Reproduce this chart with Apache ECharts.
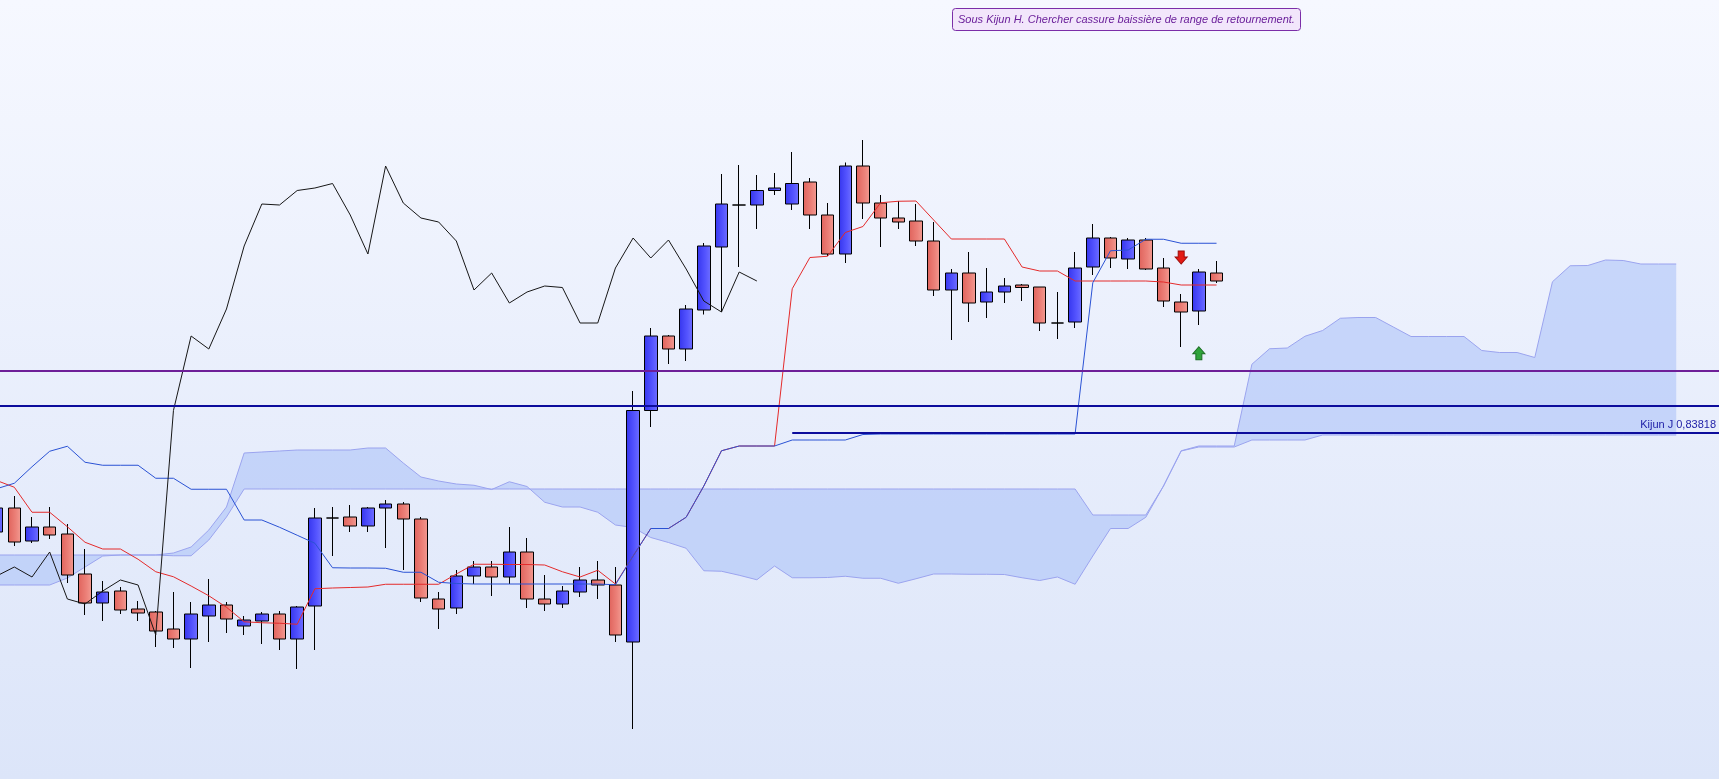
<!DOCTYPE html>
<html>
<head>
<meta charset="utf-8">
<title>Ichimoku</title>
<script src="https://cdn.jsdelivr.net/npm/echarts@6/dist/echarts.min.js"></script>
<style>
html, body { margin: 0; padding: 0; width: 1719px; height: 779px; overflow: hidden; }
#chart { width: 1719px; height: 779px; background: linear-gradient(to bottom, #f6f8ff 0%, #dce5f9 100%); }
</style>
</head>
<body>
<div id="chart"></div>
<script>
// Daily candles: [open, close, low, high], one per period (period 0 is cut by the left edge)
const candles = [
  [0.83422, 0.83518, 0.83410, 0.83530],
  [0.83518, 0.83382, 0.83366, 0.83566],
  [0.83386, 0.83442, 0.83378, 0.83482],
  [0.83442, 0.83410, 0.83394, 0.83522],
  [0.83414, 0.83250, 0.83218, 0.83454],
  [0.83254, 0.83138, 0.83090, 0.83354],
  [0.83138, 0.83182, 0.83066, 0.83226],
  [0.83186, 0.83110, 0.83094, 0.83202],
  [0.83114, 0.83098, 0.83066, 0.83146],
  [0.83102, 0.83026, 0.82962, 0.83106],
  [0.83034, 0.82994, 0.82958, 0.83182],
  [0.82994, 0.83094, 0.82878, 0.83142],
  [0.83086, 0.83130, 0.82982, 0.83234],
  [0.83130, 0.83074, 0.83018, 0.83142],
  [0.83046, 0.83070, 0.83010, 0.83086],
  [0.83066, 0.83094, 0.82974, 0.83102],
  [0.83094, 0.82994, 0.82950, 0.83106],
  [0.82994, 0.83122, 0.82874, 0.83126],
  [0.83126, 0.83478, 0.82950, 0.83518],
  [0.83478, 0.83478, 0.83326, 0.83522],
  [0.83482, 0.83446, 0.83422, 0.83530],
  [0.83446, 0.83518, 0.83422, 0.83522],
  [0.83518, 0.83534, 0.83358, 0.83550],
  [0.83534, 0.83474, 0.83270, 0.83542],
  [0.83474, 0.83158, 0.83142, 0.83482],
  [0.83154, 0.83114, 0.83034, 0.83182],
  [0.83118, 0.83246, 0.83094, 0.83270],
  [0.83246, 0.83282, 0.83214, 0.83306],
  [0.83282, 0.83242, 0.83166, 0.83306],
  [0.83242, 0.83342, 0.83214, 0.83442],
  [0.83342, 0.83154, 0.83118, 0.83398],
  [0.83154, 0.83134, 0.83106, 0.83250],
  [0.83134, 0.83186, 0.83118, 0.83206],
  [0.83182, 0.83230, 0.83162, 0.83282],
  [0.83230, 0.83210, 0.83154, 0.83306],
  [0.83210, 0.83010, 0.82982, 0.83282],
  [0.82982, 0.83908, 0.82634, 0.83986],
  [0.83908, 0.84206, 0.83842, 0.84238],
  [0.84206, 0.84154, 0.84094, 0.84210],
  [0.84154, 0.84314, 0.84106, 0.84330],
  [0.84310, 0.84566, 0.84292, 0.84578],
  [0.84562, 0.84734, 0.84302, 0.84854],
  [0.84730, 0.84730, 0.84482, 0.84890],
  [0.84730, 0.84788, 0.84634, 0.84850],
  [0.84788, 0.84798, 0.84770, 0.84858],
  [0.84734, 0.84816, 0.84710, 0.84942],
  [0.84822, 0.84690, 0.84634, 0.84838],
  [0.84690, 0.84534, 0.84526, 0.84738],
  [0.84534, 0.84886, 0.84498, 0.84900],
  [0.84886, 0.84738, 0.84674, 0.84990],
  [0.84738, 0.84678, 0.84562, 0.84770],
  [0.84678, 0.84662, 0.84634, 0.84746],
  [0.84666, 0.84586, 0.84566, 0.84734],
  [0.84586, 0.84390, 0.84366, 0.84662],
  [0.84390, 0.84458, 0.84190, 0.84474],
  [0.84458, 0.84338, 0.84262, 0.84542],
  [0.84342, 0.84382, 0.84278, 0.84478],
  [0.84382, 0.84406, 0.84338, 0.84438],
  [0.84410, 0.84400, 0.84346, 0.84414],
  [0.84402, 0.84258, 0.84226, 0.84402],
  [0.84258, 0.84258, 0.84194, 0.84382],
  [0.84262, 0.84478, 0.84238, 0.84542],
  [0.84482, 0.84598, 0.84450, 0.84654],
  [0.84598, 0.84518, 0.84478, 0.84602],
  [0.84514, 0.84590, 0.84474, 0.84598],
  [0.84590, 0.84474, 0.84470, 0.84598],
  [0.84478, 0.84346, 0.84322, 0.84518],
  [0.84342, 0.84302, 0.84162, 0.84374],
  [0.84306, 0.84462, 0.84250, 0.84474],
  [0.84458, 0.84426, 0.84418, 0.84506]
];

// Tenkan-sen (conversion line)
const tenkan = [
  0.83628, 0.83601, 0.83501, 0.83501, 0.83443, 0.83381, 0.83354, 0.83354, 0.83313, 0.83263,
  0.83243, 0.83206, 0.83167, 0.83121, 0.83063, 0.83059, 0.83057, 0.83053, 0.83195, 0.83198,
  0.83200, 0.83202, 0.83213, 0.83213, 0.83213, 0.83213, 0.83254, 0.83293, 0.83293, 0.83292,
  0.83292, 0.83290, 0.83263, 0.83242, 0.83269, 0.83214, 0.83326, 0.83436, 0.83436, 0.83481,
  0.83606, 0.83747, 0.83766, 0.83766, 0.83766, 0.84395, 0.84520, 0.84525, 0.84620, 0.84644,
  0.84739, 0.84745, 0.84746, 0.84670, 0.84594, 0.84594, 0.84594, 0.84594, 0.84482, 0.84466,
  0.84466, 0.84426, 0.84426, 0.84426, 0.84426, 0.84426, 0.84422, 0.84410, 0.84410, 0.84410
];

// Kijun-sen (base line)
const kijun = [
  0.83595, 0.83617, 0.83683, 0.83745, 0.83765, 0.83701, 0.83689, 0.83689, 0.83689, 0.83637,
  0.83637, 0.83593, 0.83593, 0.83593, 0.83470, 0.83470, 0.83441, 0.83409, 0.83377, 0.83279,
  0.83278, 0.83278, 0.83277, 0.83261, 0.83261, 0.83221, 0.83216, 0.83214, 0.83214, 0.83214,
  0.83214, 0.83214, 0.83214, 0.83214, 0.83214, 0.83211, 0.83326, 0.83436, 0.83436, 0.83481,
  0.83606, 0.83747, 0.83766, 0.83766, 0.83766, 0.83790, 0.83790, 0.83790, 0.83790, 0.83812,
  0.83814, 0.83814, 0.83814, 0.83814, 0.83814, 0.83814, 0.83814, 0.83814, 0.83814, 0.83814,
  0.83814, 0.83814, 0.84419, 0.84547, 0.84550, 0.84593, 0.84593, 0.84577, 0.84577, 0.84577
];

// Chikou span (close plotted 26 periods back)
const chikou = [
  0.83246, 0.83282, 0.83242, 0.83342, 0.83154, 0.83134, 0.83186, 0.83230, 0.83210, 0.83010,
  0.83908, 0.84206, 0.84154, 0.84314, 0.84566, 0.84734, 0.84730, 0.84788, 0.84798, 0.84816,
  0.84690, 0.84534, 0.84886, 0.84738, 0.84678, 0.84662, 0.84586, 0.84390, 0.84458, 0.84338,
  0.84382, 0.84406, 0.84400, 0.84258, 0.84258, 0.84478, 0.84598, 0.84518, 0.84590, 0.84474,
  0.84346, 0.84302, 0.84462, 0.84426
];

// Senkou span A (projected 26 periods ahead)
const senkouA = [
  0.83210, 0.83210, 0.83210, 0.83210, 0.83238, 0.83282, 0.83326, 0.83330, 0.83330, 0.83330,
  0.83338, 0.83362, 0.83430, 0.83522, 0.83738, 0.83742, 0.83746, 0.83750, 0.83750, 0.83750,
  0.83750, 0.83758, 0.83758, 0.83698, 0.83642, 0.83626, 0.83614, 0.83609, 0.83592, 0.83623,
  0.83604, 0.83541, 0.83522, 0.83522, 0.83501, 0.83450, 0.83440, 0.83400, 0.83380, 0.83357,
  0.83267, 0.83265, 0.83249, 0.83231, 0.83286, 0.83239, 0.83239, 0.83240, 0.83245, 0.83237,
  0.83237, 0.83217, 0.83235, 0.83254, 0.83254, 0.83253, 0.83253, 0.83252, 0.83239, 0.83228,
  0.83242, 0.83213, 0.83326, 0.83436, 0.83436, 0.83481, 0.83606, 0.83747, 0.83766, 0.83766,
  0.83766, 0.84093, 0.84155, 0.84158, 0.84205, 0.84228, 0.84277, 0.84280, 0.84280, 0.84242,
  0.84204, 0.84204, 0.84204, 0.84204, 0.84148, 0.84140, 0.84140, 0.84120, 0.84423, 0.84487,
  0.84488, 0.84510, 0.84508, 0.84494, 0.84494, 0.84494
];

// Senkou span B (projected 26 periods ahead)
const senkouB = [
  0.83330, 0.83330, 0.83330, 0.83330, 0.83330, 0.83330, 0.83330, 0.83330, 0.83330, 0.83330,
  0.83327, 0.83327, 0.83390, 0.83482, 0.83594, 0.83594, 0.83594, 0.83594, 0.83594, 0.83594,
  0.83594, 0.83594, 0.83594, 0.83594, 0.83594, 0.83594, 0.83594, 0.83594, 0.83594, 0.83594,
  0.83594, 0.83594, 0.83594, 0.83594, 0.83594, 0.83594, 0.83594, 0.83594, 0.83594, 0.83594,
  0.83594, 0.83594, 0.83594, 0.83594, 0.83594, 0.83594, 0.83594, 0.83594, 0.83594, 0.83594,
  0.83594, 0.83594, 0.83594, 0.83594, 0.83594, 0.83594, 0.83594, 0.83594, 0.83594, 0.83594,
  0.83594, 0.83594, 0.83490, 0.83490, 0.83490, 0.83490, 0.83606, 0.83746, 0.83762, 0.83762,
  0.83762, 0.83790, 0.83790, 0.83790, 0.83790, 0.83810, 0.83810, 0.83810, 0.83810, 0.83810,
  0.83810, 0.83810, 0.83810, 0.83810, 0.83810, 0.83810, 0.83810, 0.83810, 0.83810, 0.83810,
  0.83810, 0.83810, 0.83810, 0.83810, 0.83810, 0.83810
];

// Horizontal levels
const levelPrices = [0.84068, 0.83928];
const levelColors = ['#6e1f98', '#0c0c9c'];
const kijunJ = 0.83818;
const kijunJStart = 45;
const kijunJText = 'Kijun J 0,83818';

// Signal arrows: [period, price, direction]
const signals = [[67, 0.84520, 'down'], [68, 0.84137, 'up']];

const noteText = 'Sous Kijun H. Chercher cassure baissière de range de retournement.';

// visible window in period units and price units
const X_MIN = 0.19, X_MAX = 97.42;
const Y_MIN = 0.82434, Y_MAX = 0.85550;

const pts = arr => arr.map((v, j) => [j, v]);

const blueBody = {
  type: 'linear', x: 0, y: 0, x2: 1, y2: 0,
  colorStops: [{ offset: 0, color: '#3535ee' }, { offset: 0.6, color: '#5555ff' }, { offset: 1, color: '#6f6fff' }]
};
const redBody = {
  type: 'linear', x: 0, y: 0, x2: 1, y2: 0,
  colorStops: [{ offset: 0, color: '#e0635c' }, { offset: 0.6, color: '#ec8179' }, { offset: 1, color: '#f29b92' }]
};

const downArrow = 'path://M3,0 L9,0 L9,6 L12,6 L6,13 L0,6 L3,6 Z';
const upArrow = 'path://M6,0 L12,7 L9,7 L9,13 L3,13 L3,7 L0,7 Z';

const lineBase = { type: 'line', symbol: 'none', showSymbol: false, silent: true, animation: false };

// full-width levels and the Kijun J segment, all as coordinate pairs
const levelLines = levelPrices.map((p, k) => [
  { coord: [X_MIN, p], lineStyle: { color: levelColors[k], width: 2, type: 'solid' }, label: { show: false } },
  { coord: [X_MAX, p], lineStyle: { color: levelColors[k], width: 2, type: 'solid' }, label: { show: false } }
]);
const kijunJLabel = {
  show: true, position: 'insideEndTop', distance: [3, 3],
  formatter: kijunJText, color: '#1c1ca6', fontSize: 11,
  fontFamily: 'Liberation Sans, Arial, sans-serif'
};
const kijunJLine = [
  { coord: [kijunJStart, kijunJ], lineStyle: { color: '#0c0c9c', width: 2, type: 'solid' }, label: kijunJLabel },
  { coord: [X_MAX, kijunJ], lineStyle: { color: '#0c0c9c', width: 2, type: 'solid' }, label: kijunJLabel }
];

const chart = echarts.init(document.getElementById('chart'), null, { renderer: 'canvas' });
chart.setOption({
  animation: false,
  backgroundColor: 'transparent',
  title: {
    text: noteText,
    left: 952, top: 8,
    padding: [6, 6, 6, 6],
    backgroundColor: '#f2e6fb',
    borderColor: '#7b2ea8', borderWidth: 1, borderRadius: 3,
    textStyle: {
      fontFamily: 'Liberation Sans, Arial, sans-serif', fontSize: 11,
      fontStyle: 'italic', fontWeight: 'normal', color: '#6a1f9a'
    }
  },
  grid: { left: 0, right: 0, top: 0, bottom: 0 },
  xAxis: { type: 'value', min: X_MIN, max: X_MAX, show: false },
  yAxis: { type: 'value', min: Y_MIN, max: Y_MAX, show: false, scale: true },
  series: [
    {
      // Kumo: area between the two senkou spans
      type: 'custom',
      name: 'Kumo',
      silent: true,
      animation: false,
      clip: true,
      z: 1,
      data: [[X_MIN, Y_MIN]],
      renderItem: (params, api) => {
        const upper = senkouA.map((v, j) => api.coord([j, v]));
        const lower = senkouB.map((v, j) => api.coord([j, v])).reverse();
        return {
          type: 'polygon',
          shape: { points: upper.concat(lower) },
          style: { fill: 'rgba(168,192,248,0.55)', stroke: null }
        };
      }
    },
    Object.assign({}, lineBase, {
      name: 'Senkou A', data: pts(senkouA),
      lineStyle: { color: '#9aa3ee', width: 1 }, z: 1
    }),
    Object.assign({}, lineBase, {
      name: 'Senkou B', data: pts(senkouB),
      lineStyle: { color: '#9aa3ee', width: 1 }, z: 1
    }),
    {
      type: 'candlestick',
      name: 'Prix',
      data: candles.map((c, j) => [j, c[0], c[1], c[2], c[3]]),
      encode: { x: 0, y: [1, 2, 3, 4] },
      barWidth: 13,
      silent: true,
      animation: false,
      itemStyle: {
        color: blueBody, color0: redBody,
        borderColor: '#000', borderColor0: '#000', borderColorDoji: '#000',
        borderWidth: 1
      },
      z: 2,
      markLine: {
        silent: true, animation: false,
        symbol: ['none', 'none'],
        data: levelLines.concat([kijunJLine])
      },
      markPoint: {
        silent: true, animation: false,
        data: signals.map(s => ({
          coord: [s[0], s[1]],
          symbol: s[2] === 'down' ? downArrow : upArrow,
          symbolSize: [12, 13],
          itemStyle: s[2] === 'down'
            ? { color: '#e41a14', borderColor: '#9a0a08', borderWidth: 1 }
            : { color: '#2fa33a', borderColor: '#1a6b22', borderWidth: 1 },
          label: { show: false }
        }))
      }
    },
    Object.assign({}, lineBase, {
      name: 'Tenkan', data: pts(tenkan),
      lineStyle: { color: '#e42a2a', width: 1 }, z: 4
    }),
    Object.assign({}, lineBase, {
      name: 'Kijun', data: pts(kijun),
      lineStyle: { color: '#2a52d4', width: 1 }, z: 4
    }),
    Object.assign({}, lineBase, {
      name: 'Chikou', data: pts(chikou),
      lineStyle: { color: '#161616', width: 1 }, z: 4
    })
  ]
});
</script>
</body>
</html>
